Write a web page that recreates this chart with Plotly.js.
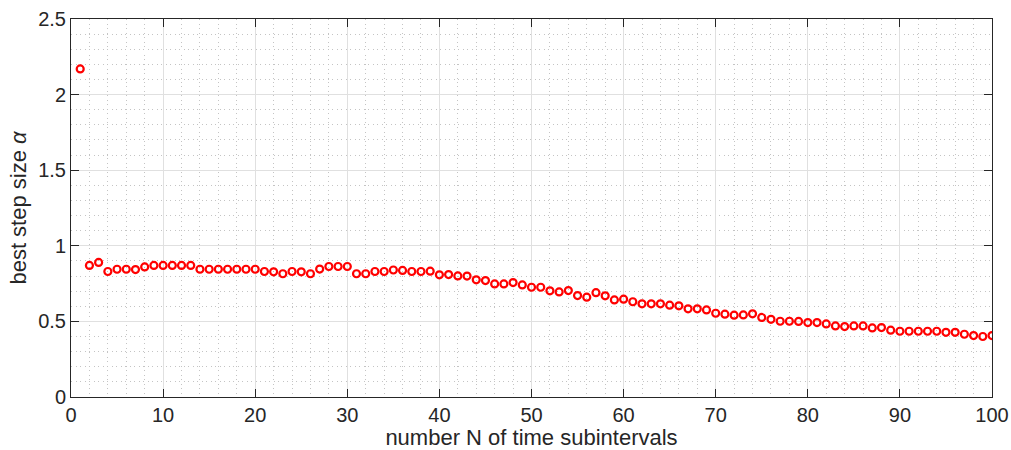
<!DOCTYPE html>
<html>
<head>
<meta charset="utf-8">
<script src="https://cdn.plot.ly/plotly-3.0.1.min.js"></script>
<style>html,body{margin:0;padding:0;background:#fff;}#chart{width:1011px;height:450px;}</style>
</head>
<body>
<div id="chart"></div>
<script>
const N = [];
for (let i = 1; i <= 100; i++) N.push(i);
const alphaBest = [
  2.17, 0.87, 0.89, 0.83, 0.845, 0.845, 0.843, 0.86, 0.87, 0.87,
  0.87, 0.87, 0.87, 0.845, 0.845, 0.845, 0.845, 0.845, 0.845, 0.845,
  0.83, 0.828, 0.815, 0.83, 0.828, 0.815, 0.846, 0.863, 0.863, 0.863,
  0.815, 0.815, 0.83, 0.83, 0.84, 0.837, 0.83, 0.83, 0.832, 0.808,
  0.81, 0.801, 0.80, 0.775, 0.77, 0.748, 0.748, 0.757, 0.741, 0.726,
  0.726, 0.702, 0.695, 0.704, 0.671, 0.66, 0.69, 0.669, 0.642, 0.647,
  0.63, 0.616, 0.616, 0.616, 0.607, 0.603, 0.583, 0.583, 0.576, 0.554,
  0.548, 0.541, 0.543, 0.55, 0.526, 0.514, 0.501, 0.501, 0.50, 0.492,
  0.492, 0.483, 0.47, 0.466, 0.47, 0.47, 0.457, 0.459, 0.442, 0.435,
  0.435, 0.435, 0.435, 0.435, 0.428, 0.428, 0.415, 0.406, 0.40, 0.406
];
const xTitle = 'number N of time subintervals';
const yTitle = 'best step size <i>α</i>';

const fontFam = '"Liberation Sans", Arial, Helvetica, sans-serif';
const axCol = '#262626';

const trace = {
  x: N, y: alphaBest, type: 'scatter', mode: 'markers',
  marker: {symbol: 'circle-open', size: 7, color: '#ff0000', line: {width: 2.2, color: '#ff0000'}},
  hoverinfo: 'x+y'
};

const common = {
  showline: true, linecolor: axCol, linewidth: 1, mirror: 'ticks',
  ticks: 'inside', ticklen: 8, tickcolor: axCol, tickwidth: 1,
  showgrid: true, gridcolor: '#e0e0e0', gridwidth: 1,
  zeroline: false,
  tickfont: {family: fontFam, size: 20, color: axCol}
};

const minorGrid = {showgrid: true, griddash: '1px,3.5px', gridcolor: '#c4c4c4', gridwidth: 1, ticks: ''};

const layout = {
  width: 1011, height: 450,
  margin: {l: 71, r: 19, t: 19, b: 53},
  paper_bgcolor: '#fff', plot_bgcolor: '#fff',
  showlegend: false,
  xaxis: Object.assign({}, common, {
    range: [0, 100], dtick: 10, tick0: 0, ticklabelstandoff: 0,
    minor: Object.assign({dtick: 2}, minorGrid),
    title: {text: xTitle, font: {family: fontFam, size: 22, color: axCol}, standoff: 0}
  }),
  yaxis: Object.assign({}, common, {
    range: [0, 2.5], dtick: 0.5, tick0: 0,
    minor: Object.assign({dtick: 0.1}, minorGrid),
    title: {text: yTitle, font: {family: fontFam, size: 22, color: axCol}, standoff: 5}
  })
};

Plotly.newPlot('chart', [trace], layout, {displayModeBar: false, staticPlot: true});
</script>
</body>
</html>
